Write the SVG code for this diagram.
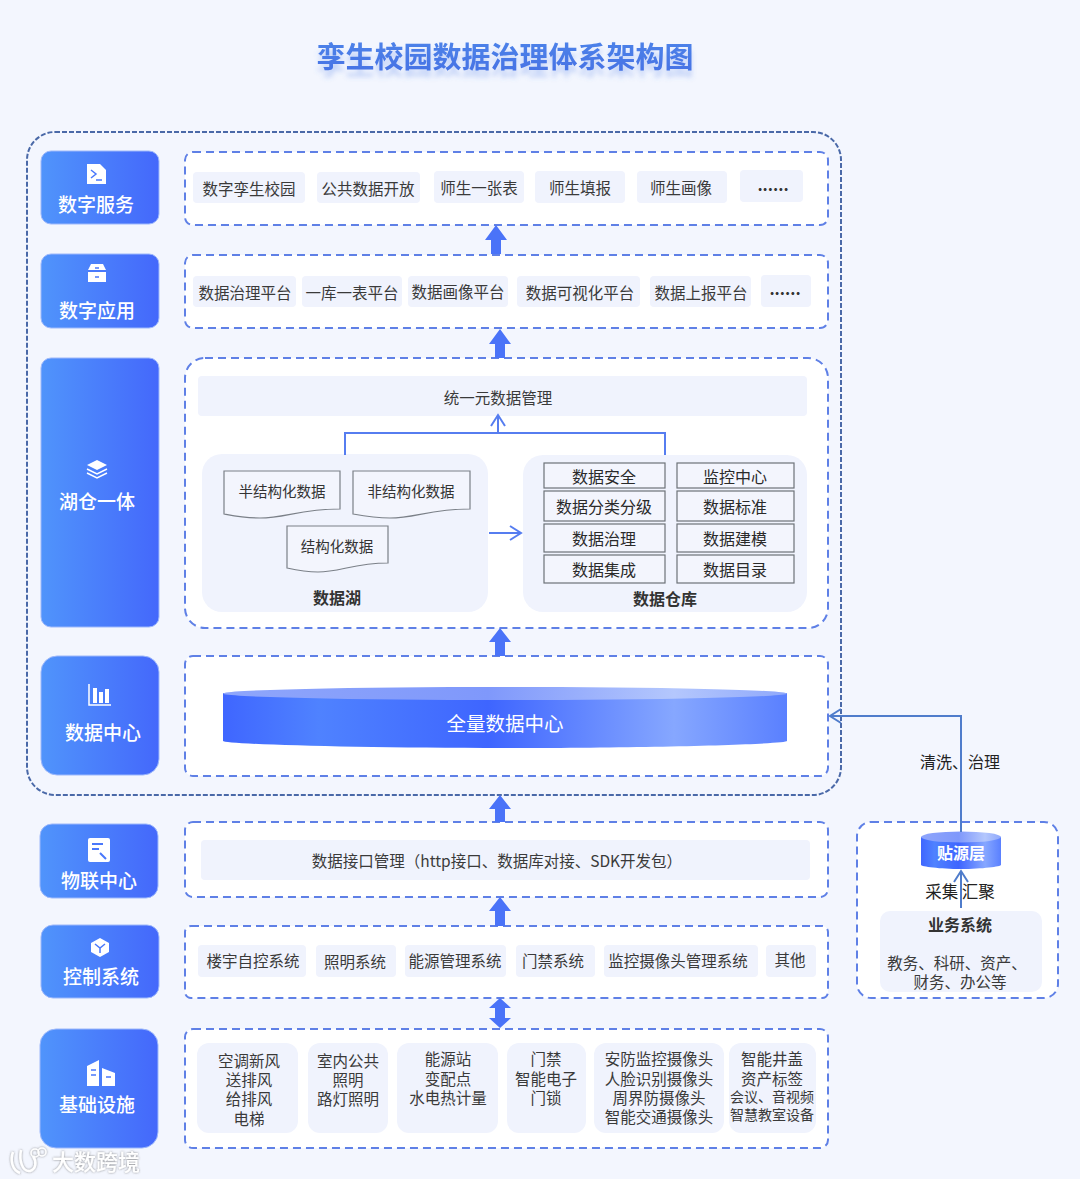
<svg xmlns="http://www.w3.org/2000/svg" width="1080" height="1179" viewBox="0 0 1080 1179">
<style>
text{font-family:"Noto Sans CJK SC","Noto Sans",sans-serif;text-anchor:middle;dominant-baseline:central}
.panel{fill:#fff;stroke:#5f80e6;stroke-width:2;stroke-dasharray:8 5}
.block{fill:url(#blockG);stroke:#9db8fb;stroke-width:1}
.bl{fill:#fff;font-size:19px;font-weight:500}
.chip{fill:#f0f3fd}
.t{fill:#3a3a3a;font-size:15.5px}
.b{fill:#333;font-size:16px;font-weight:700}
.cell{fill:#f3f5fd;stroke:#6d7278;stroke-width:1.2}
.c16{fill:#2a2a2a;font-size:16px}
.doc{fill:#f3f5fd;stroke:#7b8088;stroke-width:1.2}
.d{fill:#333;font-size:14.5px}
.ic{fill:#fff}
.line{fill:none;stroke:#567df0;stroke-width:2}
.line2{fill:none;stroke:#4f7ccb;stroke-width:2}
.fat{fill:#4a73f8}
</style>
<defs>
<linearGradient id="blockG" x1="0" x2="1" y1="0" y2="0"><stop offset="0" stop-color="#5094fb"/><stop offset="1" stop-color="#4468fb"/></linearGradient>
<linearGradient id="titleG" x1="0" x2="0" y1="0" y2="1"><stop offset="0" stop-color="#4f86ea"/><stop offset="1" stop-color="#4570e4"/></linearGradient>
<linearGradient id="cylBody" x1="0" x2="1" y1="0" y2="0"><stop offset="0" stop-color="#3f66ff"/><stop offset=".17" stop-color="#4f82ff"/><stop offset=".47" stop-color="#3e65ff"/><stop offset=".8" stop-color="#86a7ff"/><stop offset="1" stop-color="#5a80ff"/></linearGradient>
<linearGradient id="cylTop" x1="0" x2="1" y1="0" y2="0"><stop offset="0" stop-color="#8fa6fb"/><stop offset=".47" stop-color="#7f98fb"/><stop offset=".8" stop-color="#b4c7fd"/><stop offset="1" stop-color="#8fa8fb"/></linearGradient>
<filter id="titleS" x="-5%" y="-30%" width="110%" height="190%"><feDropShadow dx="0" dy="7" stdDeviation="2.5" flood-color="#4f7ee8" flood-opacity=".3"/></filter>
<filter id="wm" x="-10%" y="-20%" width="120%" height="140%"><feDropShadow dx="0" dy="0" stdDeviation="1.2" flood-color="#555" flood-opacity=".7"/></filter>
<marker id="open" markerUnits="userSpaceOnUse" markerWidth="20" markerHeight="20" refX="14" refY="10" orient="auto"><path d="M3 3L14 10L3 17" fill="none" stroke="context-stroke" stroke-width="2"/></marker>
</defs>
<rect width="1080" height="1179" fill="#f3f6fe"/>
<text id="title" x="505" y="55" font-size="29" font-weight="700" fill="url(#titleG)" filter="url(#titleS)">孪生校园数据治理体系架构图</text>
<rect id="outer" x="27" y="132" width="814" height="663" rx="28" fill="none" stroke="#4a69a8" stroke-width="2" stroke-dasharray="5 2"/>

<g id="panel-service"><rect class="panel" x="185" y="152" width="643" height="73" rx="8"/>
<rect class="chip" x="193" y="172" width="112" height="31" rx="4"/><text class="t" x="249" y="188">数字孪生校园</text>
<rect class="chip" x="317" y="172" width="103" height="31" rx="4"/><text class="t" x="368" y="188">公共数据开放</text>
<rect class="chip" x="434" y="171" width="90" height="32" rx="4"/><text class="t" x="479" y="187">师生一张表</text>
<rect class="chip" x="535" y="171" width="90" height="32" rx="4"/><text class="t" x="580" y="187">师生填报</text>
<rect class="chip" x="637" y="171" width="90" height="32" rx="4"/><text class="t" x="681" y="187">师生画像</text>
<rect class="chip" x="740" y="170" width="63" height="32" rx="4"/><text class="b" x="773" y="184">......</text></g>

<g id="panel-apps"><rect class="panel" x="185" y="255" width="643" height="73" rx="8"/>
<rect class="chip" x="193" y="276" width="103" height="31" rx="4"/><text class="t" x="245" y="292">数据治理平台</text>
<rect class="chip" x="302" y="276" width="100" height="31" rx="4"/><text class="t" x="352" y="292">一库一表平台</text>
<rect class="chip" x="408" y="276" width="100" height="31" rx="4"/><text class="t" x="458" y="291">数据画像平台</text>
<rect class="chip" x="517" y="276" width="123" height="31" rx="4"/><text class="t" x="580" y="292">数据可视化平台</text>
<rect class="chip" x="650" y="276" width="101" height="31" rx="4"/><text class="t" x="701" y="292">数据上报平台</text>
<rect class="chip" x="761" y="275" width="50" height="32" rx="4"/><text class="b" x="785" y="288">......</text></g>

<g id="panel-lakehouse"><rect class="panel" x="185" y="358" width="643" height="270" rx="20"/>
<rect class="chip" x="198" y="376" width="609" height="40" rx="4"/><text class="t" x="498" y="397">统一元数据管理</text>
<rect class="chip" x="202" y="454" width="286" height="158" rx="20"/>
<rect class="chip" x="523" y="455" width="284" height="157" rx="20"/>
<g id="doc1"><path class="doc" d="M224 471H340V509C300 509 285 518 260 518C245 518 235 516 224 514Z"/><text class="d" x="282" y="490">半结构化数据</text></g>
<g id="doc2"><path class="doc" d="M353 471H470V509C430 509 415 518 390 518C375 518 364 516 353 514Z"/><text class="d" x="411" y="490">非结构化数据</text></g>
<g id="doc3"><path class="doc" d="M287 526H388V563C354 563 340 572 318 572C306 572 296 570 287 568Z"/><text class="d" x="337" y="545">结构化数据</text></g>
<text class="b" x="337" y="597" font-size="15">数据湖</text>
<text class="b" x="665" y="598">数据仓库</text>
<rect class="cell" x="544" y="463" width="121" height="25"/><text class="c16" x="604" y="476">数据安全</text>
<rect class="cell" x="677" y="463" width="117" height="25"/><text class="c16" x="735" y="476">监控中心</text>
<rect class="cell" x="544" y="491" width="121" height="30"/><text class="c16" x="604" y="506">数据分类分级</text>
<rect class="cell" x="677" y="491" width="117" height="30"/><text class="c16" x="735" y="506">数据标准</text>
<rect class="cell" x="544" y="524" width="121" height="28"/><text class="c16" x="604" y="538">数据治理</text>
<rect class="cell" x="677" y="524" width="117" height="28"/><text class="c16" x="735" y="538">数据建模</text>
<rect class="cell" x="544" y="555" width="121" height="28"/><text class="c16" x="604" y="569">数据集成</text>
<rect class="cell" x="677" y="555" width="117" height="28"/><text class="c16" x="735" y="569">数据目录</text></g>

<g id="panel-datacenter"><rect class="panel" x="185" y="656" width="643" height="120" rx="8"/>
<g id="cylinder"><path d="M223 693V741C223 744 350 748 505 748C660 748 787 744 787 741V693Z" fill="url(#cylBody)"/>
<ellipse cx="505" cy="693.500" rx="282" ry="6.500" fill="url(#cylTop)"/>
<text x="505" y="722" font-size="19.500" fill="#fff">全量数据中心</text></g></g>

<g id="panel-iot"><rect class="panel" x="185" y="822" width="643" height="75" rx="8"/>
<rect class="chip" x="201" y="840" width="609" height="40" rx="4"/><text class="t" x="497" y="860">数据接口管理（http接口、数据库对接、SDK开发包）</text></g>

<g id="panel-control"><rect class="panel" x="185" y="926" width="643" height="72" rx="6"/>
<rect class="chip" x="198" y="945" width="108" height="32" rx="4"/><text class="t" x="253" y="960">楼宇自控系统</text>
<rect class="chip" x="316" y="945" width="80" height="32" rx="4"/><text class="t" x="355" y="961">照明系统</text>
<rect class="chip" x="405" y="945" width="101" height="32" rx="4"/><text class="t" x="455" y="960">能源管理系统</text>
<rect class="chip" x="516" y="945" width="79" height="32" rx="4"/><text class="t" x="553" y="960">门禁系统</text>
<rect class="chip" x="604" y="945" width="154" height="32" rx="4"/><text class="t" x="678" y="960">监控摄像头管理系统</text>
<rect class="chip" x="766" y="945" width="50" height="32" rx="4"/><text class="t" x="790" y="959">其他</text></g>

<g id="panel-infra"><rect class="panel" x="185" y="1029" width="643" height="119" rx="8"/>
<rect class="chip" x="197" y="1043" width="101" height="90" rx="12"/>
<text class="t" x="249" y="1060">空调新风</text><text class="t" x="249" y="1079">送排风</text><text class="t" x="249" y="1098">给排风</text><text class="t" x="249" y="1118">电梯</text>
<rect class="chip" x="308" y="1043" width="80" height="90" rx="12"/>
<text class="t" x="348" y="1060">室内公共</text><text class="t" x="348" y="1079">照明</text><text class="t" x="348" y="1098">路灯照明</text>
<rect class="chip" x="397" y="1043" width="101" height="90" rx="12"/>
<text class="t" x="448" y="1058">能源站</text><text class="t" x="448" y="1078">变配点</text><text class="t" x="448" y="1097">水电热计量</text>
<rect class="chip" x="507" y="1043" width="79" height="90" rx="12"/>
<text class="t" x="546" y="1058">门禁</text><text class="t" x="546" y="1078">智能电子</text><text class="t" x="546" y="1097">门锁</text>
<rect class="chip" x="594" y="1043" width="130" height="90" rx="12"/>
<text class="t" x="659" y="1058">安防监控摄像头</text><text class="t" x="659" y="1078">人脸识别摄像头</text><text class="t" x="659" y="1097">周界防摄像头</text><text class="t" x="659" y="1116">智能交通摄像头</text>
<rect class="chip" x="729" y="1043" width="87" height="90" rx="12"/>
<text class="t" x="772" y="1058">智能井盖</text><text class="t" x="772" y="1078">资产标签</text><text class="t" x="772" y="1096" style="font-size:14px">会议、音视频</text><text class="t" x="772" y="1114" style="font-size:14px">智慧教室设备</text></g>

<g id="node-service"><rect class="block" x="41" y="151" width="118" height="73" rx="10"/>
<path class="ic" d="M87 164H100L106 170V184H87Z"/><path d="M91 170L96 174L91 178M96 180H102" fill="none" stroke="#4a78fb" stroke-width="1.500"/>
<text class="bl" x="96" y="203">数字服务</text></g>
<g id="node-apps"><rect class="block" x="41" y="254" width="118" height="74" rx="10"/>
<path class="ic" d="M91 264H103L106 270H88ZM88 272H106V282H88Z"/><path d="M88 271H106M95 268H99M95 277H99" stroke="#4a78fb" stroke-width="1.500" fill="none"/>
<text class="bl" x="97" y="309">数字应用</text></g>
<g id="node-lakehouse"><rect class="block" x="41" y="358" width="118" height="269" rx="10"/>
<path class="ic" d="M97 460L107 465L97 470L87 465Z"/><path d="M87 469L97 474L107 469M87 473L97 478L107 473" fill="none" stroke="#fff" stroke-width="1.500"/>
<text class="bl" x="97" y="500">湖仓一体</text></g>
<g id="node-datacenter"><rect class="block" x="41" y="656" width="118" height="119" rx="16"/>
<path d="M89 684V705H111" fill="none" stroke="#fff" stroke-width="1.500"/><path class="ic" d="M93 688H97V703H93ZM99 692H103V703H99ZM105 689H109V703H105Z"/>
<text class="bl" x="103" y="731">数据中心</text></g>
<g id="node-iot"><rect class="block" x="40" y="824" width="118" height="74" rx="12"/>
<rect class="ic" x="88" y="838" width="22" height="24" rx="2"/><path d="M92 844H103M92 849H99M100 853L106 859" stroke="#4a78fb" stroke-width="2" fill="none"/>
<text class="bl" x="99" y="879">物联中心</text></g>
<g id="node-control"><rect class="block" x="41" y="925" width="118" height="73" rx="12"/>
<path class="ic" d="M100 938L109 943V952L100 957L91 952V943Z"/><path d="M95 944L100 948L105 944M100 948V953" stroke="#4a78fb" stroke-width="1.500" fill="none"/>
<text class="bl" x="101" y="975">控制系统</text></g>
<g id="node-infra"><rect class="block" x="40" y="1029" width="118" height="119" rx="16"/>
<path class="ic" d="M87 1066L99 1060V1086H87ZM102 1068L115 1073V1086H102Z"/><path d="M91 1070H96M91 1075H96M106 1077H111" stroke="#4a78fb" stroke-width="1.500" fill="none"/>
<text class="bl" x="97" y="1103">基础设施</text></g>

<g id="node-source"><rect class="panel" x="857" y="822" width="201" height="176" rx="14"/>
<rect class="chip" x="880" y="911" width="162" height="81" rx="10"/>
<text class="b" x="960" y="924" font-size="15">业务系统</text>
<text class="t" x="957" y="962">教务、科研、资产、</text><text class="t" x="960" y="981">财务、办公等</text>
<g id="source-cyl"><path d="M921 837V865C921 866.500 940 869 961 869C982 869 1001 866.500 1001 865V837Z" fill="url(#cylBody)"/>
<ellipse cx="961" cy="837" rx="40" ry="5.500" fill="url(#cylTop)"/>
<text x="961" y="852" font-size="16" font-weight="700" fill="#fff">贴源层</text></g></g>

<g id="connectors">
<path class="line" d="M345 455V433H665V455"/>
<path class="line" d="M498 433V415" marker-end="url(#open)"/>
<path class="line" d="M489 533H521" marker-end="url(#open)"/>
<path class="line2" d="M961 832V716H830" marker-end="url(#open)"/>
<path class="line2" d="M961 908V871" marker-end="url(#open)"/>
<path class="fat" d="M496 225L507 240H501V254H491V240H485Z"/>
<path class="fat" d="M500 329L511 344H505V358H495V344H489Z"/>
<path class="fat" d="M500 628L511 642H505V656H495V642H489Z"/>
<path class="fat" d="M500 795L511 809H505V822H495V809H489Z"/>
<path class="fat" d="M500 897L511 911H505V926H495V911H489Z"/>
<path class="fat" d="M500 998L511 1008H505V1018H511L500 1028L489 1018H495V1008H489Z"/>
</g>
<text id="label-clean" x="960" y="761" font-size="16" fill="#222">清洗、治理</text>
<text id="label-collect" x="960" y="891" font-size="16.500" fill="#222">采集 汇聚</text>

<g id="watermark" filter="url(#wm)">
<path d="M13 1152C10 1160 12 1170 20 1173M21 1150C19 1160 22 1172 30 1171C36 1169 37 1162 33 1156" fill="none" stroke="#fff" stroke-width="2.500"/>
<circle cx="35" cy="1153" r="4" fill="none" stroke="#fff" stroke-width="1.500"/><circle cx="42" cy="1152" r="4" fill="none" stroke="#fff" stroke-width="1.500"/>
<text x="96" y="1160" font-size="22" font-weight="500" fill="#fff">大数跨境</text></g>
</svg>
